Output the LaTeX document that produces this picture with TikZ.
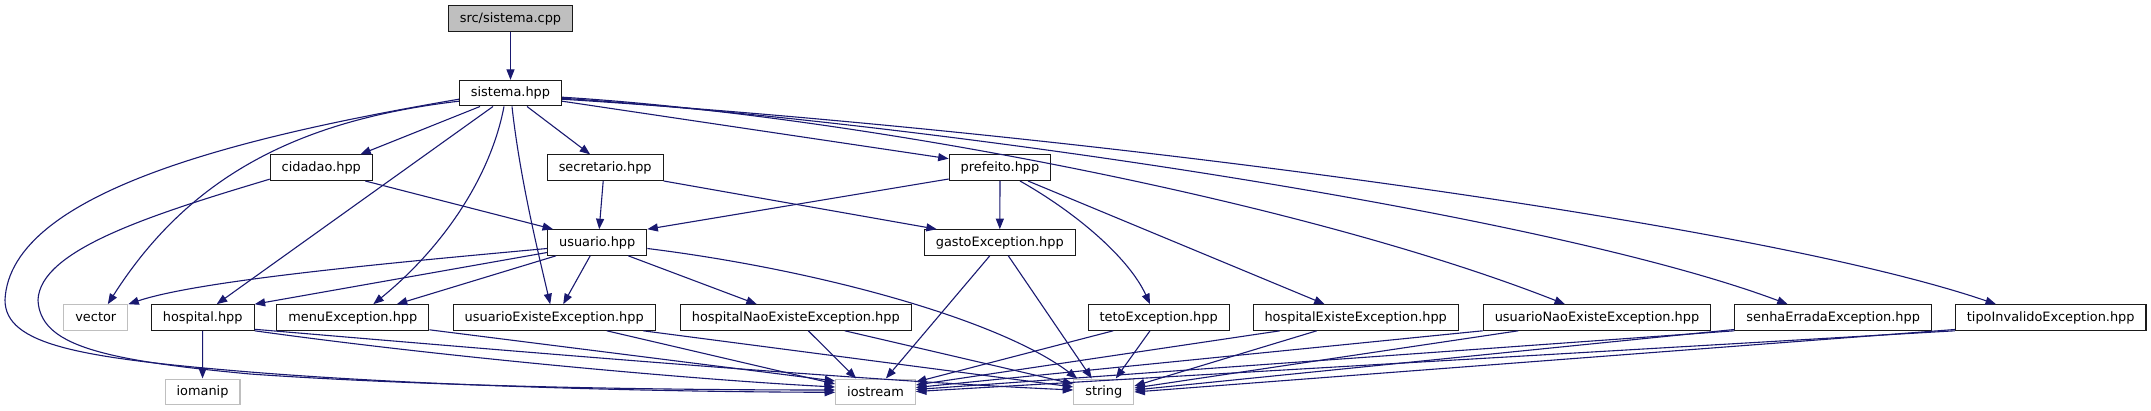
\documentclass[tikz,border=0pt]{standalone}
\usepackage{fontspec}
\setmainfont{DejaVu Sans}
\usetikzlibrary{arrows.meta}
\definecolor{inclblue}{HTML}{191970}
\definecolor{boxline}{HTML}{1A1A1A}
\definecolor{sysline}{HTML}{BFBFBF}
\definecolor{srcfill}{HTML}{BFBFBF}
\tikzset{
  file/.style={draw=boxline, fill=white, line width=1.1pt, inner xsep=11.5pt,
    inner ysep=0pt, minimum height=25.5pt, font=\fontsize{12.9}{15}\selectfont},
  sysfile/.style={file, draw=sysline},
  srcfile/.style={file, fill=srcfill},
  incl/.style={draw=inclblue, line width=1.1pt, -{Triangle[length=10.5pt,width=8pt]}}
}
\begin{document}
\begin{tikzpicture}[x=1pt,y=-1pt]
    \useasboundingbox (0,0) rectangle (2151,411);
    % files
    \node[srcfile] (cpp) at (510.5,18.5) {src/sistema.cpp};
    \node[file] (sys) at (510.5,93.2) {sistema.hpp};
    \node[file] (cid) at (321.3,167.7) {cidadao.hpp};
    \node[file] (sec) at (605.2,167.7) {secretario.hpp};
    \node[file] (pre) at (1000,167.7) {prefeito.hpp};
    \node[file] (usu) at (597.2,242.5) {usuario.hpp};
    \node[file] (gas) at (999.8,242.5) {gastoException.hpp};
    \node[sysfile] (vec) at (95.8,317.5) {vector};
    \node[file] (hos) at (202.7,317.5) {hospital.hpp};
    \node[file] (men) at (352.8,317.5) {menuException.hpp};
    \node[file] (uee) at (554.2,317.5) {usuarioExisteException.hpp};
    \node[file] (hne) at (795.8,317.5) {hospitalNaoExisteException.hpp};
    \node[file] (tet) at (1158.7,317.5) {tetoException.hpp};
    \node[file] (hee) at (1355.7,317.5) {hospitalExisteException.hpp};
    \node[file] (une) at (1597,317.5) {usuarioNaoExisteException.hpp};
    \node[file] (sen) at (1833.2,317.5) {senhaErradaException.hpp};
    \node[file] (tip) at (2050.7,317.5) {tipoInvalidoException.hpp};
    \node[sysfile] (iom) at (202.5,391.8) {iomanip};
    \node[sysfile] (ios) at (875.5,391.8) {iostream};
    \node[sysfile] (str) at (1103.8,391.8) {string};
    % sistema.cpp / sistema.hpp
    \draw[incl] (cpp) -- (sys);
    \draw[incl] ([xshift=-30.5pt]sys.south) -- ([xshift=39pt]cid.north);
    \draw[incl] ([xshift=16.5pt]sys.south) -- ([xshift=-15pt]sec.north);
    \draw[incl] ([yshift=-8pt]sys.east) -- ([yshift=9pt]pre.west);
    \draw[incl] ([xshift=-17.5pt]sys.south) -- ([xshift=14pt]hos.north);
    \draw[incl] ([xshift=-6.5pt]sys.south) .. controls (490,180) and (440,250) .. ([xshift=20.5pt]men.north);
    \draw[incl] ([xshift=1.5pt]sys.south) .. controls (520,180) and (540,260) .. ([xshift=-4pt]uee.north);
    \draw[incl] ([yshift=-8pt]sys.west) .. controls (300,120) and (190,175) .. ([xshift=12pt]vec.north);
    \draw[incl] ([yshift=-6pt]sys.west) .. controls (250,135) and (10,190) .. (5,300)
      .. controls (5,345) and (80,358) .. (250,372)
      .. controls (450,388) and (700,392) .. ([yshift=-0.5pt]ios.west);
    \draw[incl] ([yshift=-4pt]sys.east) .. controls (850,115) and (1300,200) .. ([xshift=-32pt]une.north);
    \draw[incl] ([yshift=-5pt]sys.east) .. controls (950,125) and (1550,215) .. ([xshift=-45.5pt]sen.north);
    \draw[incl] ([yshift=-6pt]sys.east) .. controls (1050,130) and (1750,220) .. ([xshift=-54.7pt]tip.north);
    % second row
    \draw[incl] ([xshift=44pt]cid.south) -- ([xshift=6pt]usu.north west);
    \draw[incl] ([yshift=-11.5pt]cid.west) .. controls (150,215) and (40,250) .. (38,300)
      .. controls (40,345) and (100,360) .. (250,374)
      .. controls (450,388) and (700,390) .. ([yshift=1.8pt]ios.west);
    \draw[incl] ([xshift=-2pt]sec.south) -- ([xshift=2pt]usu.north);
    \draw[incl] (sec.south east) -- ([xshift=-63pt]gas.north);
    \draw[incl] ([yshift=2pt]pre.south west) -- (usu.north east);
    \draw[incl] (pre.south) -- (gas.north);
    \draw[incl] ([xshift=20pt]pre.south) .. controls (1080,215) and (1130,260) .. ([xshift=-8.7pt]tet.north);
    \draw[incl] ([xshift=28pt]pre.south) -- ([xshift=-31pt]hee.north);
    % usuario.hpp and gastoException.hpp
    \draw[incl] ([yshift=-6pt]usu.west) .. controls (400,262) and (200,280) .. (vec.north east);
    \draw[incl] ([yshift=-10pt]usu.west) -- (hos.north east);
    \draw[incl] ([xshift=9pt]usu.south west) -- ([xshift=44pt]men.north);
    \draw[incl] ([xshift=-7pt]usu.south) -- ([xshift=9pt]uee.north);
    \draw[incl] ([xshift=31pt]usu.south) -- ([xshift=-39pt]hne.north);
    \draw[incl] ([yshift=-6pt]usu.east) .. controls (820,270) and (1000,320) .. ([xshift=4pt]str.north west);
    \draw[incl] ([xshift=-10pt]gas.south) -- ([xshift=-30pt]ios.north east);
    \draw[incl] ([xshift=8.5pt]gas.south) -- ([xshift=-12pt]str.north);
    % third row
    \draw[incl] (hos) -- (iom);
    \draw[incl] (hos.south east) .. controls (450,358) and (700,380) .. ([yshift=4.8pt]ios.west);
    \draw[incl] ([yshift=1.5pt]hos.south east) .. controls (500,350) and (850,380) .. ([yshift=1.8pt]str.west);
    \draw[incl] ([yshift=1pt]men.south east) -- ([yshift=10.8pt]ios.west);
    \draw[incl] ([xshift=52.5pt]uee.south) -- ([yshift=7.8pt]ios.west);
    \draw[incl] ([xshift=89pt]uee.south) -- ([yshift=4.8pt]str.west);
    \draw[incl] ([xshift=12.5pt]hne.south) -- ([xshift=21pt]ios.north west);
    \draw[incl] ([xshift=49pt]hne.south) -- ([yshift=7.8pt]str.west);
    \draw[incl] ([xshift=-45.5pt]tet.south) -- ([yshift=9.8pt]ios.east);
    \draw[incl] ([xshift=-8.7pt]tet.south) -- ([xshift=12pt]str.north);
    \draw[incl] ([xshift=-75.7pt]hee.south) -- ([yshift=6.8pt]ios.east);
    \draw[incl] ([xshift=-39pt]hee.south) -- ([yshift=5.8pt]str.east);
    \draw[incl] (une.south west) -- ([yshift=4.3pt]ios.east);
    \draw[incl] ([xshift=-78.7pt]une.south) -- ([yshift=3.8pt]str.east);
    \draw[incl] (sen.south west) -- ([yshift=2.3pt]ios.east);
    \draw[incl] ([yshift=1.3pt]sen.south west) -- ([yshift=1.8pt]str.east);
    \draw[incl] (tip.south west) -- ([yshift=0.3pt]ios.east);
    \draw[incl] ([yshift=1.3pt]tip.south west) -- ([yshift=-0.2pt]str.east);
\end{tikzpicture}
\end{document}
